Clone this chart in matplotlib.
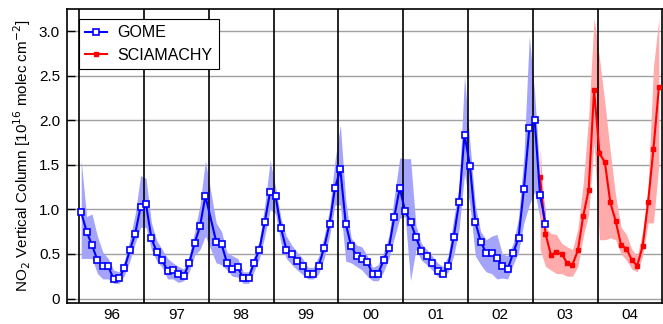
import numpy as np
import pandas as pd
import matplotlib
matplotlib.use('Agg')
import matplotlib.pyplot as plt

plt.rcParams['font.family'] = ['Liberation Sans', 'DejaVu Sans']

# monthly means, GOME Jan 1996 - Mar 2003 (no Jan 1998)
gome_vals = [0.97, 0.75, 0.60, 0.43, 0.36, 0.36, 0.22, 0.23, 0.34, 0.54, 0.73, 1.03,
             1.06, 0.68, 0.52, 0.43, 0.31, 0.32, 0.27, 0.25, 0.40, 0.62, 0.81, 1.15,
             0.64, 0.61, 0.40, 0.33, 0.35, 0.23, 0.23, 0.40, 0.55, 0.86, 1.20,
             1.15, 0.79, 0.55, 0.50, 0.42, 0.36, 0.28, 0.28, 0.37, 0.57, 0.84, 1.24,
             1.45, 0.84, 0.59, 0.48, 0.44, 0.41, 0.27, 0.28, 0.43, 0.57, 0.92, 1.24,
             0.98, 0.86, 0.69, 0.53, 0.48, 0.40, 0.31, 0.28, 0.37, 0.69, 1.08, 1.84,
             1.49, 0.86, 0.64, 0.51, 0.51, 0.46, 0.36, 0.33, 0.51, 0.68, 1.23, 1.91,
             2.00, 1.16, 0.84]
gome_hi = [1.55, 0.92, 0.95, 0.70, 0.52, 0.45, 0.32, 0.30, 0.42, 0.66, 0.95, 1.38,
           1.35, 0.85, 0.65, 0.55, 0.45, 0.40, 0.36, 0.33, 0.48, 0.75, 1.05, 1.55,
           0.85, 0.75, 0.52, 0.48, 0.45, 0.30, 0.30, 0.48, 0.65, 1.05, 1.55,
           1.25, 0.90, 0.70, 0.60, 0.52, 0.45, 0.35, 0.35, 0.48, 0.70, 1.00, 1.55,
           1.95, 1.10, 0.68, 0.60, 0.58, 0.48, 0.35, 0.38, 0.52, 0.70, 1.15, 1.58,
           1.57, 1.57, 0.82, 0.62, 0.55, 0.48, 0.40, 0.36, 0.48, 0.90, 1.25, 2.50,
           1.75, 1.05, 0.75, 0.66, 0.70, 0.72, 0.50, 0.48, 0.62, 0.90, 1.60, 2.95,
           2.30, 1.35, 1.00]
gome_lo = [0.45, 0.45, 0.45, 0.28, 0.22, 0.22, 0.17, 0.17, 0.26, 0.42, 0.62, 0.80,
           0.80, 0.55, 0.42, 0.35, 0.22, 0.22, 0.18, 0.20, 0.30, 0.48, 0.55, 0.70,
           0.40, 0.38, 0.32, 0.25, 0.24, 0.17, 0.17, 0.30, 0.45, 0.70, 1.00,
           0.95, 0.62, 0.45, 0.38, 0.32, 0.27, 0.22, 0.22, 0.28, 0.45, 0.70, 1.05,
           1.05, 0.42, 0.40, 0.36, 0.32, 0.25, 0.20, 0.20, 0.30, 0.45, 0.68, 0.90,
           0.92, 0.20, 0.55, 0.43, 0.38, 0.32, 0.25, 0.24, 0.30, 0.48, 0.78, 1.40,
           1.05, 0.48, 0.38, 0.30, 0.28, 0.22, 0.23, 0.22, 0.38, 0.52, 0.85, 1.05,
           1.20, 0.90, 0.70]

# SCIAMACHY Feb 2003 - Dec 2004
scia_vals = [1.36, 0.73, 0.49, 0.52, 0.50, 0.40, 0.38, 0.54, 0.93, 1.22, 2.34,
             1.63, 1.53, 1.08, 0.87, 0.60, 0.56, 0.43, 0.37, 0.59, 1.08, 1.68, 2.37]
scia_hi = [1.70, 0.80, 0.73, 0.72, 0.62, 0.58, 0.55, 0.78, 1.30, 2.05, 3.15,
           2.70, 2.20, 1.65, 1.15, 0.80, 0.72, 0.55, 0.48, 0.75, 1.25, 2.60, 3.15]
scia_lo = [0.55, 0.36, 0.32, 0.28, 0.28, 0.25, 0.25, 0.36, 0.70, 0.95, 1.75,
           0.66, 0.66, 0.68, 0.66, 0.50, 0.43, 0.33, 0.30, 0.48, 0.85, 0.85, 1.50]

years = list(range(1996, 2005))
year_labels = ['96', '97', '98', '99', '00', '01', '02', '03', '04']

months = pd.period_range('1996-01', '2003-03', freq='M')
gome_months = months[months != pd.Period('1998-01', freq='M')]
scia_months = pd.period_range('2003-02', '2004-12', freq='M')


def decimal_year(periods):
    return np.array([p.year + (p.month - 1) / 12.0 + 0.03 for p in periods])


tg = decimal_year(gome_months)
ts = decimal_year(scia_months)

fig = plt.figure(figsize=(6.63, 3.24), dpi=100)
ax = fig.add_axes([0.101, 0.066, 0.897, 0.906])

ax.fill_between(tg, gome_lo, gome_hi, color='#a4a4fb', lw=0, zorder=2)
ax.fill_between(ts, scia_lo, scia_hi, color='#ffabab', lw=0, zorder=2)

for y in years:
    ax.axvline(y, color='black', lw=1.2, zorder=3)

ax.plot(tg, gome_vals, color='#0000ff', lw=1.5, marker='s', ms=4.5,
        mfc='white', mec='#0000ff', mew=1.2, zorder=5, label='GOME')
ax.plot(ts, scia_vals, color='#ff0000', lw=1.5, marker='s', ms=3.5,
        mfc='#ff0000', mec='#ff0000', zorder=4, label='SCIAMACHY')

ax.set_xlim(1995.81, 2004.99)
ax.set_ylim(-0.046, 3.25)
ax.set_xticks([y + 0.5 for y in years])
ax.set_xticklabels(year_labels, fontsize=11)
ax.tick_params(axis='x', length=0, pad=4)
ax.set_yticks([0, 0.5, 1.0, 1.5, 2.0, 2.5, 3.0])
ax.set_yticklabels(['0', '0.5', '1.0', '1.5', '2.0', '2.5', '3.0'], fontsize=11)
ax.tick_params(axis='y', direction='in', length=6, width=1, pad=5)
ax.yaxis.grid(True, color='#a0a0a0', lw=1)
ax.set_axisbelow(True)
for s in ax.spines.values():
    s.set_linewidth(1.2)

ax.set_ylabel('NO$_2$ Vertical Column [10$^{16}$ molec cm$^{-2}$]', fontsize=11, labelpad=4)

leg = ax.legend(loc='upper left', bbox_to_anchor=(0.0197, 0.966), borderaxespad=0,
                fancybox=False, framealpha=1, edgecolor='black', fontsize=11.5,
                handlelength=1.4, handletextpad=0.6, borderpad=0.4, labelspacing=0.45)
leg.get_frame().set_linewidth(0.8)
leg.set_zorder(10)

fig.savefig('out.png', dpi=100)
